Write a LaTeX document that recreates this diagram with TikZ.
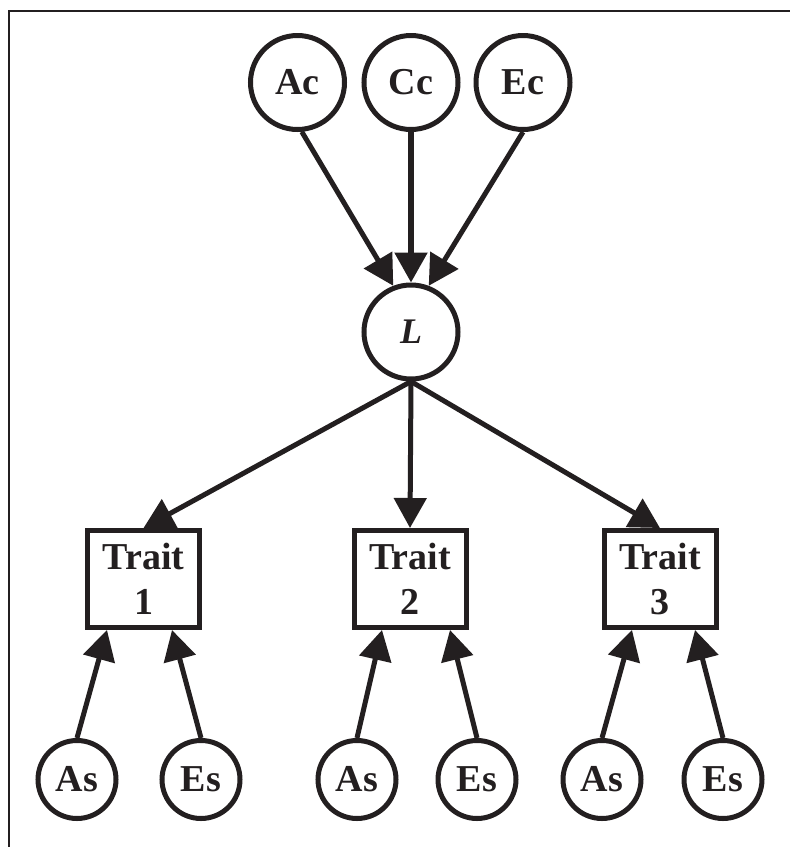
\documentclass[tikz,border=0pt]{standalone}
\usepackage{fontspec}
\setmainfont{Liberation Serif}
\usetikzlibrary{arrows.meta,calc}
\definecolor{ink}{RGB}{35,31,32}
\begin{document}
\begin{tikzpicture}[x=1pt,y=-1pt,
  every node/.style={text=ink},
  big/.style={circle,draw=ink,line width=5pt,minimum size=94pt,inner sep=0pt,fill=white,font=\bfseries\fontsize{38}{44}\selectfont},
  small/.style={circle,draw=ink,line width=5pt,minimum size=78pt,inner sep=0pt,fill=white,font=\bfseries\fontsize{38}{44}\selectfont},
  trait/.style={rectangle,draw=ink,line width=5pt,minimum width=112pt,minimum height=97pt,inner sep=0pt,fill=white,align=center,font=\bfseries\fontsize{38}{45}\selectfont},
  arr/.style={draw=ink,fill=ink,line width=5pt,-{Triangle[length=30pt,width=32pt]}},
  frame/.style={draw=ink,line width=2.5pt}
]
\useasboundingbox (0,0) rectangle (790,847);
\draw[frame] (9,847) -- (9,11) -- (790,11);

\node[big] (Ac) at (297.5,82.5) {Ac};
\node[big] (Cc) at (411,82.5) {Cc};
\node[big] (Ec) at (523,82.5) {Ec};
\node[big,font=\bfseries\itshape\fontsize{36}{40}\selectfont] (L) at (411,332) {L};

\node[trait] (T1) at (143.5,579) {Trait\\1};
\node[trait] (T2) at (410,579) {Trait\\2};
\node[trait] (T3) at (660,579) {Trait\\3};

\node[small] (As1) at (77,779.5) {As};
\node[small] (Es1) at (201,779.5) {Es};
\node[small] (As2) at (357,779.5) {As};
\node[small] (Es2) at (477,779.5) {Es};
\node[small] (As3) at (602,779.5) {As};
\node[small] (Es3) at (723,779.5) {Es};

\draw[arr] (Ac.-85) -- (L.111);
\draw[arr,line width=5.5pt] (Cc.south) -- (L.north);
\draw[arr] (Ec.-90) -- (L.69);

\draw[arr] (L.south) -- (T1.north);
\draw[arr] (L.south) -- (T2.north);
\draw[arr] (L.south) -- (T3.north);

\draw[arr] (As1.north) -- ([xshift=-36.5pt]T1.south);
\draw[arr] (Es1.north) -- ([xshift=28.5pt]T1.south);
\draw[arr] (As2.north) -- ([xshift=-28pt]T2.south);
\draw[arr] (Es2.north) -- ([xshift=40pt]T2.south);
\draw[arr] (As3.north) -- ([xshift=-28pt]T3.south);
\draw[arr] (Es3.north) -- ([xshift=35pt]T3.south);
\end{tikzpicture}
\end{document}
